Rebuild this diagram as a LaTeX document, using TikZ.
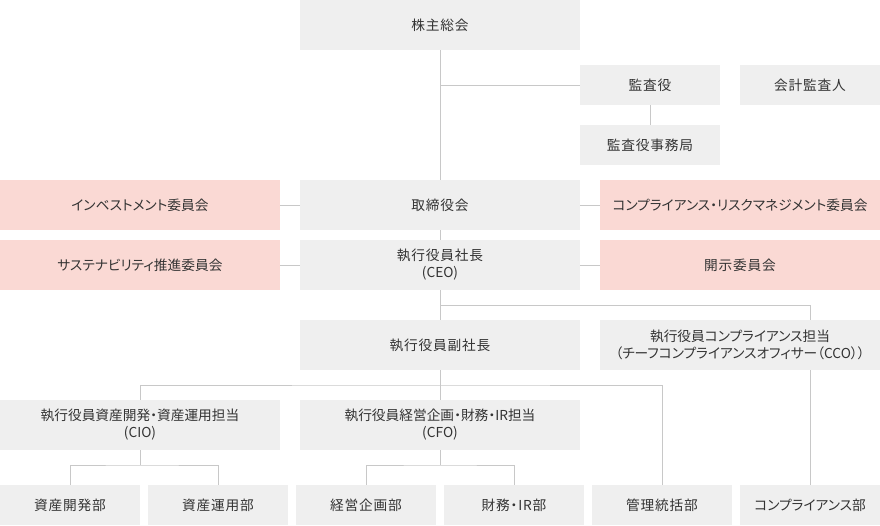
\documentclass[tikz,border=0pt]{standalone}
\usepackage{fontspec}
\setmainfont[RawFeature=+palt]{Noto Sans CJK JP}
\newfontfamily\jpsp[LetterSpace=6,RawFeature=+palt]{Noto Sans CJK JP}
\definecolor{boxgray}{HTML}{EFEFEF}
\definecolor{boxpink}{HTML}{FAD9D4}
\definecolor{linegray}{HTML}{C8C8C8}
\definecolor{txt}{HTML}{333333}
\tikzset{
  box/.style={fill=boxgray, draw=none, inner sep=0pt, align=center, text=txt,
    font=\fontsize{13.7}{17}\selectfont, minimum height=50pt},
  pbox/.style={box, fill=boxpink},
  wide/.style={minimum width=280pt},
  mid/.style={minimum width=140pt, minimum height=40pt},
  conn/.style={draw=linegray, line width=1pt},
  sp/.style={font=\jpsp\fontsize{13.7}{17}\selectfont}
}
\begin{document}
\begin{tikzpicture}[x=1pt,y=-1pt]
\useasboundingbox (0,0) rectangle (880,525);
% nodes
\node[box,wide,sp] (soukai) at (440,25) {株主総会};
\node[box,mid,sp] (kansa) at (650,85) {監査役};
\node[box,mid,sp] (kaikei) at (810,85) {会計監査人};
\node[box,mid,sp] (jimu) at (650,145) {監査役事務局};
\node[pbox,wide] (invest) at (140,205) {インベストメント委員会};
\node[box,wide,sp] (board) at (440,205) {取締役会};
\node[pbox,wide] (compl) at (740,205) {コンプライアンス・リスクマネジメント委員会};
\node[pbox,wide] (sustain) at (140,265) {サステナビリティ推進委員会};
\node[box,wide] (ceo) at (440,265) {{\jpsp 執行役員社長}\\(CEO)};
\node[pbox,wide,sp] (kaiji) at (740,265) {開示委員会};
\node[box,wide,sp] (vp) at (440,345) {執行役員副社長};
\node[box,wide] (cco) at (740,345) {執行役員コンプライアンス担当\\（チーフコンプライアンスオフィサー（CCO））};
\node[box,wide] (cio) at (140,425) {執行役員資産開発・資産運用担当\\(CIO)};
\node[box,wide] (cfo) at (440,425) {執行役員経営企画・財務・IR担当\\(CFO)};
\node[box,mid,sp] (dev) at (70,505) {資産開発部};
\node[box,mid,sp] (unyo) at (218,505) {資産運用部};
\node[box,mid,sp] (keiei) at (366,505) {経営企画部};
\node[box,mid,sp] (zaimu) at (514,505) {財務・IR部};
\node[box,mid,sp] (kanri) at (662,505) {管理統括部};
\node[box,mid] (compdept) at (810,505) {コンプライアンス部};
% junctions
\coordinate (j1) at (440,85);
\coordinate (j2) at (440,305);
\coordinate (j3) at (440,385);
\coordinate (cioj) at (140,465);
\coordinate (cfoj) at (440,465);
% connectors
\draw[conn] (soukai) -- (board);
\draw[conn] (board) -- (ceo);
\draw[conn] (j1) -- (kansa);
\draw[conn] (kansa) -- (jimu);
\draw[conn] (invest) -- (board);
\draw[conn] (board) -- (compl);
\draw[conn] (sustain) -- (ceo);
\draw[conn] (ceo) -- (kaiji);
\draw[conn] (ceo) -- (vp);
\draw[conn] (j2) -| (cco.north -| compdept);
\draw[conn] (cco.south -| compdept) -- (compdept);
\draw[conn] (vp) -- (cfo);
\draw[conn] (cio) |- (j3) -| (kanri);
\draw[conn] (cio) -- (cioj);
\draw[conn] (dev) |- (cioj) -| (unyo);
\draw[conn] (cfo) -- (cfoj);
\draw[conn] (keiei) |- (cfoj) -| (zaimu);
\end{tikzpicture}
\end{document}
